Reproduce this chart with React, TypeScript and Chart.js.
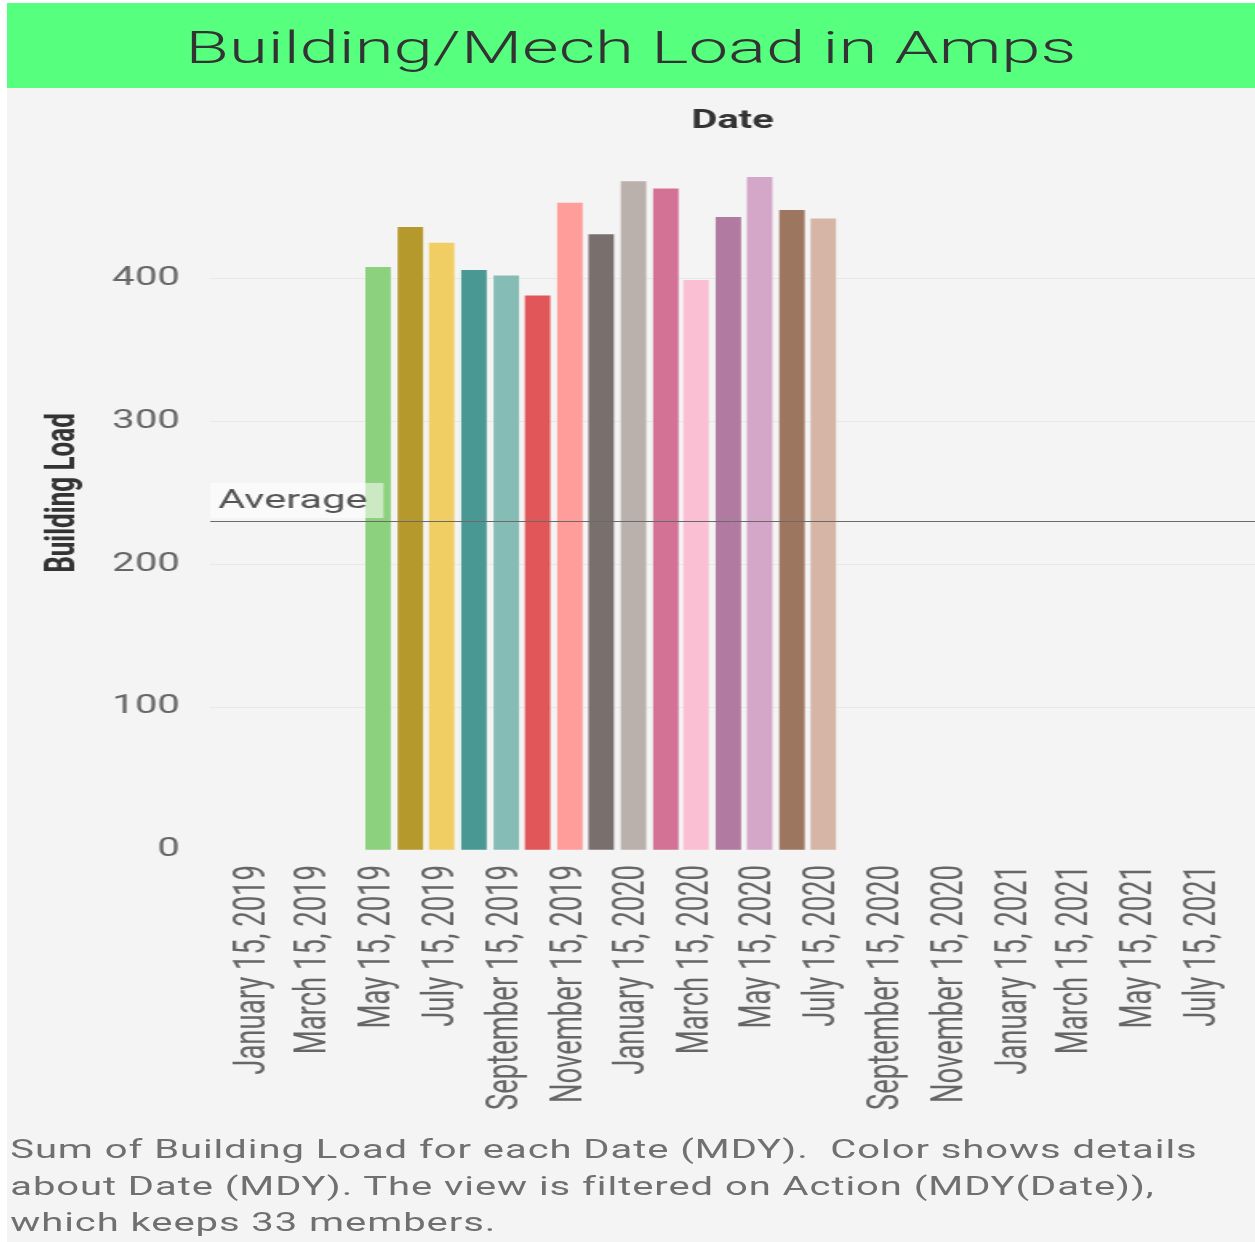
import React, { useEffect, useRef } from "react";
import { Chart, registerables } from "chart.js";

Chart.register(...registerables);

// ---- data ----
const BAR_DATES = [
  "2019-05-15", "2019-06-15", "2019-07-15", "2019-08-15", "2019-09-15",
  "2019-10-15", "2019-11-15", "2019-12-15", "2020-01-15", "2020-02-15",
  "2020-03-15", "2020-04-15", "2020-05-15", "2020-06-15", "2020-07-15",
];
const BUILDING_LOAD = [408, 436, 425, 406, 402, 388, 453, 431, 468, 463, 399, 443, 471, 448, 442];
const BAR_COLORS = [
  "#8CD17D", "#B6992D", "#F1CE63", "#499894", "#86BCB6",
  "#E15759", "#FF9D9A", "#79706E", "#BAB0AC", "#D37295",
  "#FABFD2", "#B07AA1", "#D4A6C8", "#9D7660", "#D7B5A6",
];
const AVERAGE_LOAD = 230.5;
const Y_TICKS = [0, 100, 200, 300, 400];
const Y_MAX = 500;
const TICK_DATES = [
  "2019-01-15", "2019-03-15", "2019-05-15", "2019-07-15", "2019-09-15", "2019-11-15",
  "2020-01-15", "2020-03-15", "2020-05-15", "2020-07-15", "2020-09-15", "2020-11-15",
  "2021-01-15", "2021-03-15", "2021-05-15", "2021-07-15",
];
const TICK_LABELS = [
  "January 15, 2019", "March 15, 2019", "May 15, 2019", "July 15, 2019",
  "September 15, 2019", "November 15, 2019", "January 15, 2020", "March 15, 2020",
  "May 15, 2020", "July 15, 2020", "September 15, 2020", "November 15, 2020",
  "January 15, 2021", "March 15, 2021", "May 15, 2021", "July 15, 2021",
];
const X_MIN_DATE = "2018-12-05";
const X_MAX_DATE = "2021-09-02";

const TITLE = "Building/Mech Load in Amps";
const FOOTNOTE = [
  "Sum of Building Load for each Date (MDY).  Color shows details",
  "about Date (MDY). The view is filtered on Action (MDY(Date)),",
  "which keeps 33 members.",
];

const FONT = 'Roboto, "Noto Sans", sans-serif';
const STRETCH = 1.6;

const toMs = (s: string) => Date.parse(s + "T00:00:00Z");

const averagePlugin = {
  id: "averageLine",
  afterDatasetsDraw(chart: any) {
    const { ctx, chartArea, scales } = chart;
    const y = Math.round(scales.y.getPixelForValue(AVERAGE_LOAD));
    ctx.save();
    ctx.font = `26px ${FONT}`;
    const tw = ctx.measureText("Average").width;
    ctx.fillStyle = "rgba(255,255,255,0.55)";
    ctx.fillRect(chartArea.left, y - 38, tw + 15, 35);
    ctx.fillStyle = "#555555";
    ctx.textBaseline = "middle";
    ctx.textAlign = "left";
    ctx.fillText("Average", chartArea.left + 5, y - 20);
    ctx.strokeStyle = "#6a6a6a";
    ctx.lineWidth = 1;
    ctx.beginPath();
    ctx.moveTo(chartArea.left, y + 0.5);
    ctx.lineTo(chartArea.right, y + 0.5);
    ctx.stroke();
    ctx.restore();
  },
};

export default function App() {
  const ref = useRef<HTMLCanvasElement>(null);

  useEffect(() => {
    const chart = new Chart(ref.current as HTMLCanvasElement, {
      type: "bar",
      data: {
        datasets: [
          {
            label: "Building Load",
            data: BAR_DATES.map((d, i) => ({ x: toMs(d), y: BUILDING_LOAD[i] })),
            backgroundColor: BAR_COLORS,
            borderWidth: 0,
            barThickness: 15.25,
          },
        ],
      },
      options: {
        animation: false,
        responsive: false,
        devicePixelRatio: 1,
        layout: { padding: 0 },
        plugins: {
          legend: { display: false },
          tooltip: { enabled: false },
          title: {
            display: true,
            text: "Date",
            fullSize: false,
            position: "top",
            color: "#333333",
            font: { family: FONT, size: 25, weight: "bold", lineHeight: 1.1 },
            padding: { top: 20, bottom: 0.5 },
          },
        },
        scales: {
          x: {
            type: "linear",
            min: toMs(X_MIN_DATE),
            max: toMs(X_MAX_DATE),
            offset: false,
            afterBuildTicks: (s: any) => {
              s.ticks = TICK_DATES.map((d) => ({ value: toMs(d) }));
            },
            afterFit: (s: any) => {
              s.height = 275;
              s.paddingLeft = 0;
              s.paddingRight = 0;
            },
            ticks: {
              autoSkip: false,
              minRotation: 90,
              maxRotation: 90,
              padding: 15,
              color: "#666666",
              font: { family: FONT, size: 27.5 },
              callback: (_v: any, i: number) => TICK_LABELS[i],
            },
            grid: { display: false, drawTicks: false, offset: false },
            border: { display: false },
          },
          y: {
            min: 0,
            max: Y_MAX,
            afterBuildTicks: (s: any) => {
              s.ticks = Y_TICKS.map((v) => ({ value: v }));
            },
            afterFit: (s: any) => {
              s.width = 127;
            },
            ticks: {
              padding: 19,
              color: "#666666",
              font: { family: FONT, size: 25 },
            },
            grid: {
              drawTicks: false,
              color: (c: any) => (c.tick && c.tick.value === 0 ? "rgba(0,0,0,0)" : "#e8e8e8"),
            },
            border: { display: false },
            title: {
              display: true,
              text: "Building Load",
              color: "#333333",
              font: { family: FONT, size: 26, weight: "bold" },
              padding: { top: 20, bottom: 0 },
            },
          },
        },
      },
      plugins: [averagePlugin],
    } as any);
    return () => chart.destroy();
  }, []);

  return (
    <div
      style={{
        position: "absolute",
        left: 7,
        top: 3,
        width: 1248,
        height: 1239,
        background: "#f4f4f4",
        overflow: "hidden",
      }}
    >
      <div
        style={{
          position: "relative",
          width: 780,
          height: 1239,
          transform: `scaleX(${STRETCH})`,
          transformOrigin: "0 0",
        }}
      >
        <div
          style={{
            height: 85,
            background: "#57ff7f",
            color: "#333333",
            fontFamily: FONT,
            fontSize: 44.2,
            fontWeight: 300,
            lineHeight: "85px",
            textAlign: "center",
            boxSizing: "border-box",
            paddingTop: 3,
            whiteSpace: "nowrap",
          }}
        >
          {TITLE}
        </div>
        <canvas
          ref={ref}
          width={780}
          height={1037}
          style={{ display: "block", width: 780, height: 1037 }}
        />
        <div
          style={{
            position: "absolute",
            top: 1129,
            left: 2,
            fontFamily: FONT,
            fontSize: 25,
            letterSpacing: "0.58px",
            lineHeight: "36.5px",
            color: "#707070",
            whiteSpace: "pre",
          }}
        >
          {FOOTNOTE.join("\n")}
        </div>
      </div>
    </div>
  );
}
